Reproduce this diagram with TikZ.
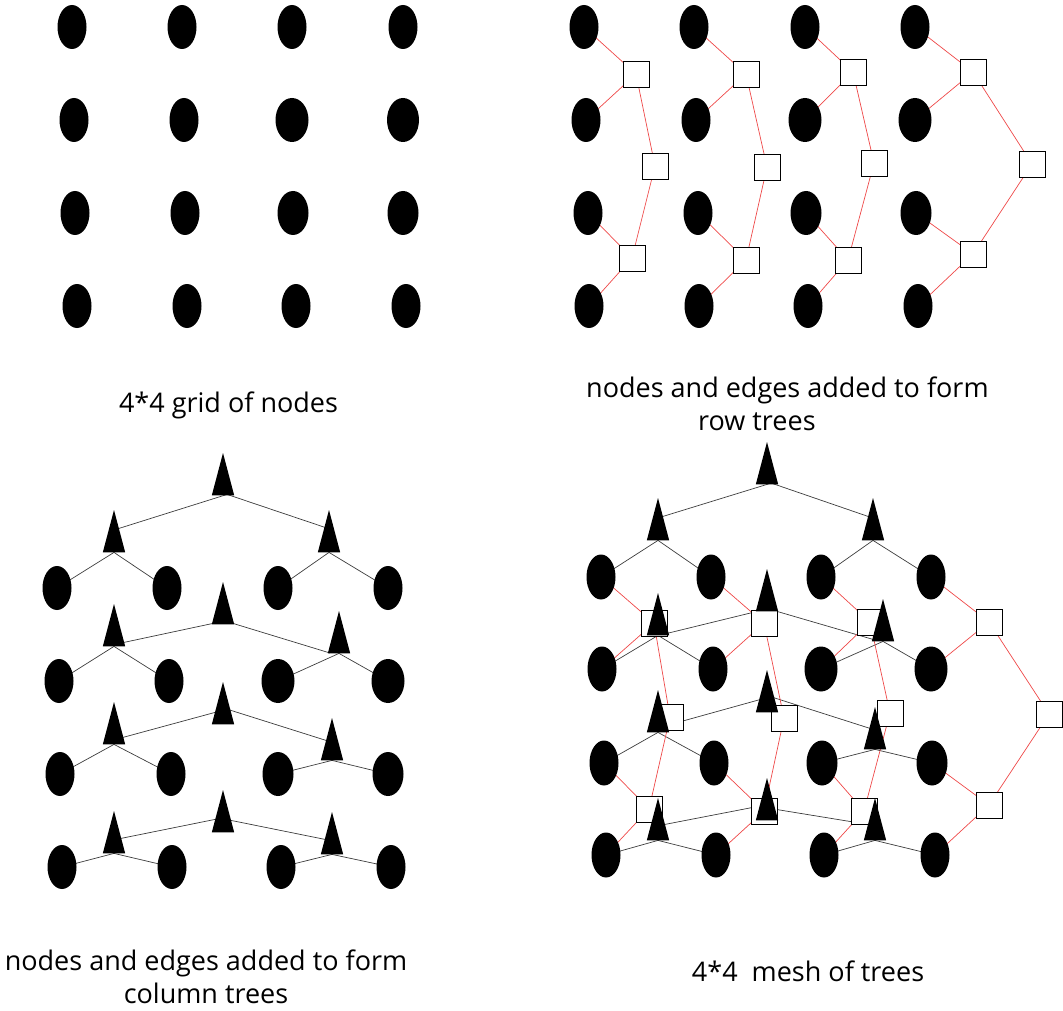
\documentclass[tikz,border=0pt]{standalone}
\usepackage{fontspec}
\setmainfont{Open Sans}
\usetikzlibrary{shapes.geometric}
\pgfdeclarelayer{edges}
\pgfsetlayers{edges,main}
\definecolor{redline}{RGB}{238,72,72}
\definecolor{blkline}{RGB}{60,60,60}
\begin{document}
\begin{tikzpicture}[x=1pt,y=-1pt,
  dot/.style={ellipse, fill=black, inner sep=0pt, minimum width=29pt, minimum height=44pt},
  sq/.style={rectangle, draw=black, fill=white, inner sep=0pt, minimum size=26pt, line width=0.9pt},
  tri/.style={rectangle, inner sep=0pt, minimum width=22pt, minimum height=42pt, anchor=north},
  trifill/.style={fill=black},
  redge/.style={draw=redline, line width=0.7pt},
  bedge/.style={draw=blkline, line width=0.7pt},
  tedge/.style={bedge, shorten <=-2pt, shorten >=-2pt},
  lbl/.style={font=\fontsize{27}{33}\selectfont, inner sep=0pt, text=black}]
\useasboundingbox (0,0) rectangle (1063,1011);

% ---------- top-left: 4*4 grid ----------
\foreach \n/\x/\y/\w in {11/72/27/29, 12/182/27/29, 13/292/27/29, 14/403/27/29,
  21/74/120/29, 22/184/120/29, 23/292/120/33, 24/403/120/32,
  31/75/213/29, 32/185/213/29, 33/293/213/31, 34/403/213/31,
  41/77/306/29, 42/187/306/29, 43/296/306/29, 44/406/306/29}
  \node[dot, minimum width=\w pt] (a\n) at (\x,\y) {};

% ---------- top-right: row trees ----------
\foreach \n/\x/\y/\w in {11/584/27/29, 12/694/27/29, 13/805/27/29, 14/915/27/29,
  21/586/120/29, 22/696/120/29, 23/805/120/33, 24/915/120/33,
  31/588/213/29, 32/698/213/29, 33/806/213/31, 34/916/213/31,
  41/589/306/29, 42/699/306/29, 43/808/306/29, 44/918/306/29}
  \node[dot, minimum width=\w pt] (b\n) at (\x,\y) {};
\foreach \c/\xa/\ya/\xb/\yb/\xc/\yc in {1/636/74/655/166/632/258, 2/746/74/767/167/746/260,
  3/853/72/874/163/848/260, 4/973/72/1032/164/973/254} {
  \node[sq] (bA\c) at (\xa,\ya) {};
  \node[sq] (bB\c) at (\xb,\yb) {};
  \node[sq] (bC\c) at (\xc,\yc) {};
}
\begin{pgfonlayer}{edges}
\foreach \c in {1,2,3,4} {
  \draw[redge] (b1\c.center) -- (bA\c.center);
  \draw[redge] (b2\c.center) -- (bA\c.center);
  \draw[redge] (bA\c.center) -- (bB\c.center);
  \draw[redge] (bB\c.center) -- (bC\c.center);
  \draw[redge] (b3\c.center) -- (bC\c.center);
  \draw[redge] (b4\c.center) -- (bC\c.center);
}
\end{pgfonlayer}

% ---------- bottom-left: column trees ----------
\foreach \n/\x/\y/\w in {11/57/588/29, 12/167/588/29, 13/278/588/29, 14/388/588/29,
  21/59/681/29, 22/169/681/29, 23/278/681/33, 24/388/681/33,
  31/60/774/29, 32/171/774/29, 33/278/774/31, 34/388/774/31,
  41/62/867/29, 42/172/867/29, 43/281/867/29, 44/391/867/29}
  \node[dot, minimum width=\w pt] (c\n) at (\x,\y) {};
\foreach \r/\ym/\yl/\xr/\yr in {1/453/510/329/510, 2/582/604/339/611,
  3/682/702/332/718, 4/790/811/332/812} {
  \node[tri] (cM\r) at (223,\ym) {};
  \node[tri] (cL\r) at (114,\yl) {};
  \node[tri] (cR\r) at (\xr,\yr) {};
  \foreach \t in {cM\r,cL\r,cR\r}
    \fill[trifill] (\t.north) -- (\t.south east) -- (\t.south west) -- cycle;
}
\begin{pgfonlayer}{edges}
\foreach \r in {1,2,3,4} {
  \draw[bedge] (cL\r.south) -- (c\r1.center);
  \draw[bedge] (cL\r.south) -- (c\r2.center);
  \draw[bedge] (cR\r.south) -- (c\r3.center);
  \draw[bedge] (cR\r.south) -- (c\r4.center);
}
\draw[tedge] ([shift={(1,0)}]cM1.south) -- ([shift={(5,-24)}]cL1.south);
\draw[tedge] ([shift={(7,0)}]cM1.south) -- ([shift={(-4,-25)}]cR1.south);
\draw[tedge] ([shift={(-10,-1)}]cM2.south) -- ([shift={(10,-4)}]cL2.south);
\draw[tedge] ([shift={(10,-1)}]cM2.south) -- ([shift={(-11,-1)}]cR2.south);
\draw[tedge] ([shift={(-8,-12)}]cM3.south) -- ([shift={(9,-7)}]cL3.south);
\draw[tedge] ([shift={(8,-14)}]cM3.south) -- ([shift={(-6,-20)}]cR3.south);
\draw[tedge] ([shift={(-8,-13)}]cM4.south) -- ([shift={(7,-15)}]cL4.south);
\draw[tedge] ([shift={(8,-12)}]cM4.south) -- ([shift={(-7,-15)}]cR4.south);
\end{pgfonlayer}

% ---------- bottom-right: mesh of trees ----------
\foreach \c/\xa/\ya/\xb/\yb/\xc/\yc in {1/654/623/670/717/649/809, 2/764/623/784/718/764/811,
  3/870/622/890/713/864/811, 4/989/622/1049/714/989/805} {
  \node[sq] (dA\c) at (\xa,\ya) {};
  \node[sq] (dB\c) at (\xb,\yb) {};
  \node[sq] (dC\c) at (\xc,\yc) {};
}
\foreach \r/\ym/\yl/\xr/\yr in {1/442/498/873/498, 2/569/593/883/599,
  3/670/690/875/707, 4/778/798/875/798} {
  \node[tri] (dM\r) at (767,\ym) {};
  \node[tri] (dL\r) at (658,\yl) {};
  \node[tri] (dR\r) at (\xr,\yr) {};
  \foreach \t in {dM\r,dL\r,dR\r}
    \fill[trifill] (\t.north) -- (\t.south east) -- (\t.south west) -- cycle;
}
\foreach \n/\x/\y/\w in {11/601/577/29, 12/711/577/29, 13/821/577/29, 14/931/577/29,
  21/602/669/29, 22/713/669/29, 23/821/669/33, 24/931/669/33,
  31/604/763/29, 32/714/763/29, 33/822/763/31, 34/932/763/31,
  41/606/855/29, 42/716/855/29, 43/824/855/29, 44/935/855/29}
  \node[dot, minimum width=\w pt, minimum height=45pt] (d\n) at (\x,\y) {};
\begin{pgfonlayer}{edges}
\foreach \r in {1,2,3,4} {
  \draw[bedge] (dL\r.south) -- (d\r1.center);
  \draw[bedge] (dL\r.south) -- (d\r2.center);
  \draw[bedge] (dR\r.south) -- (d\r3.center);
  \draw[bedge] (dR\r.south) -- (d\r4.center);
}
\draw[tedge] ([shift={(0,0)}]dM1.south) -- ([shift={(5,-24)}]dL1.south);
\draw[tedge] ([shift={(8,0)}]dM1.south) -- ([shift={(-5,-24)}]dR1.south);
\draw[tedge] ([shift={(-10,0)}]dM2.south) -- ([shift={(9,-2)}]dL2.south);
\draw[tedge] ([shift={(10,0)}]dM2.south) -- ([shift={(-10,-2)}]dR2.south);
\draw[tedge] ([shift={(-10,-12)}]dM3.south) -- ([shift={(9,-7)}]dL3.south);
\draw[tedge] ([shift={(9,-14)}]dM3.south) -- ([shift={(-5,-21)}]dR3.south);
\draw[tedge] ([shift={(-9,-14)}]dM4.south) -- ([shift={(7,-16)}]dL4.south);
\draw[tedge] ([shift={(9,-11)}]dM4.south) -- ([shift={(-7,-16)}]dR4.south);
\foreach \c in {1,2,3,4} {
  \draw[redge] (d1\c.center) -- (dA\c.center);
  \draw[redge] (d2\c.center) -- (dA\c.center);
  \draw[redge] (dA\c.center) -- (dB\c.center);
  \draw[redge] (dB\c.center) -- (dC\c.center);
  \draw[redge] (d3\c.center) -- (dC\c.center);
  \draw[redge] (d4\c.center) -- (dC\c.center);
}
\end{pgfonlayer}

% ---------- labels ----------
\node[lbl, anchor=base] (l1) at (228.5,412) {4*4 grid of nodes};
\node[lbl, align=left, anchor=north west] (l2) at (586,377) {nodes and edges added to form\\\hspace*{112pt}row trees};
\node[lbl, align=center, anchor=north] (l3) at (206,950) {nodes and edges added to form\\column trees};
\node[lbl, anchor=base] (l4) at (808,981) {4*4\ \ mesh of trees};
\end{tikzpicture}
\end{document}
